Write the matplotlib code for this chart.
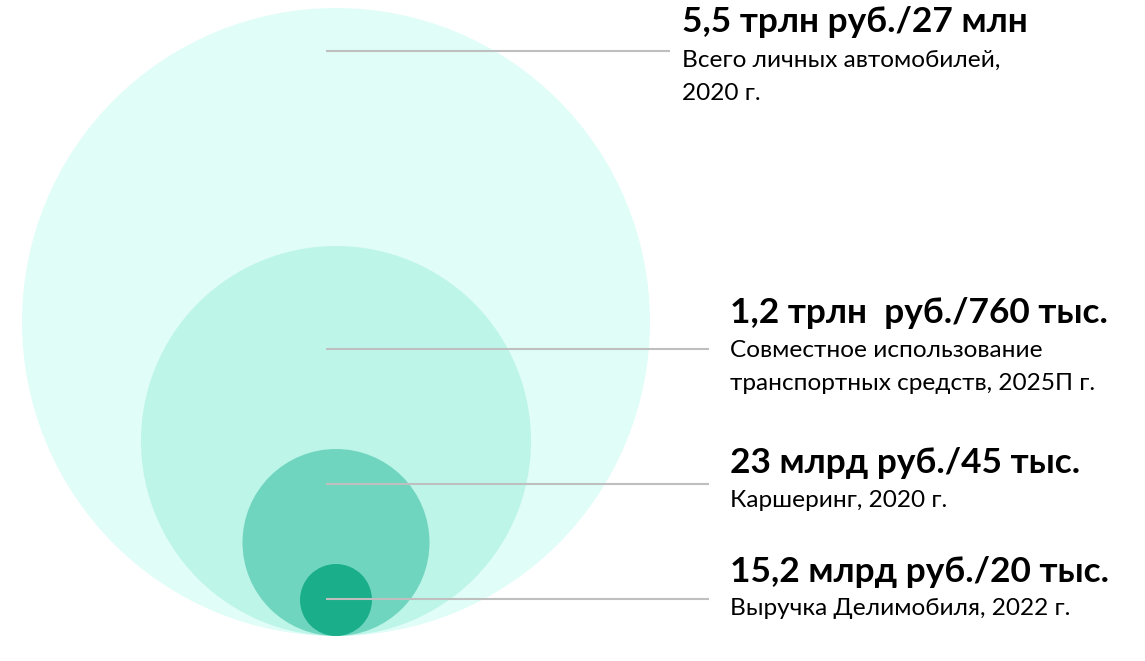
import matplotlib
matplotlib.use('Agg')
import matplotlib.pyplot as plt
from matplotlib.patches import Circle

# data
titles = ["5,5 трлн руб./27 млн",
          "1,2 трлн  руб./760 тыс.",
          "23 млрд руб./45 тыс.",
          "15,2 млрд руб./20 тыс."]
subtitles = [["Всего личных автомобилей,", "2020 г."],
             ["Совместное использование", "транспортных средств, 2025П г."],
             ["Каршеринг, 2020 г."],
             ["Выручка Делимобиля, 2022 г."]]

# layout (pixels)
radii = [314, 195, 93.5, 36]
colors = ["#E0FDF8", "#BDF5E8", "#70D5BF", "#1AAE8A"]
cx, bottom = 336, 636
line_y = [51, 349, 484, 599]
line_x1 = [670, 709, 709, 709]
text_x = [682, 730, 730, 730]
title_base = [32, 323, 473, 582]
sub_base = [67, 357, 507, 615]
sub_step = 33

plt.rcParams['font.family'] = ['Lato', 'DejaVu Sans']

fig = plt.figure(figsize=(11.45, 6.61), dpi=100)
ax = fig.add_axes([0, 0, 1, 1])
ax.set_xlim(0, 1145)
ax.set_ylim(661, 0)
ax.set_aspect('equal')
ax.axis('off')

for r, c in zip(radii, colors):
    ax.add_patch(Circle((cx, bottom - r), r, facecolor=c, edgecolor='none'))

for i in range(4):
    ax.plot([326, line_x1[i]], [line_y[i], line_y[i]], color="#BFBFBF", lw=1.5,
            solid_capstyle='butt')
    ax.text(text_x[i], title_base[i], titles[i], fontsize=25.4, fontweight='bold',
            color='black', va='baseline', ha='left')
    for k, s in enumerate(subtitles[i]):
        ax.text(text_x[i], sub_base[i] + k * sub_step, s, fontsize=17.6,
                color='black', va='baseline', ha='left')

fig.savefig("out.png", dpi=100)
